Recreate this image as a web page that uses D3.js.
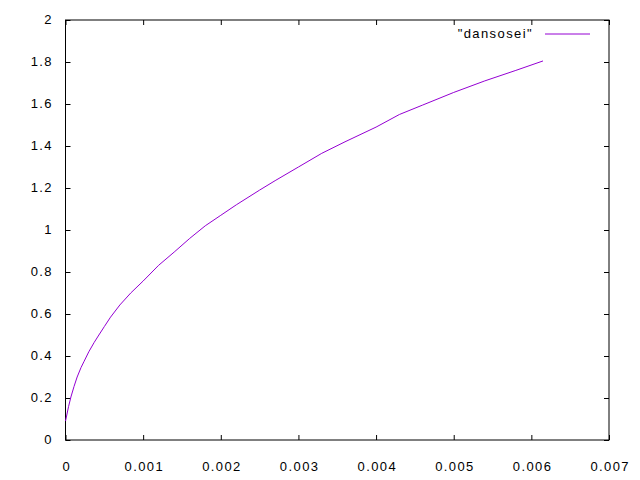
<!DOCTYPE html>
<html>
<head>
<meta charset="utf-8">
<script src="https://cdn.jsdelivr.net/npm/d3@7"></script>
<style>
  body { margin: 0; background: #fff; }
</style>
</head>
<body>
<svg id="chart" width="640" height="480"></svg>
<script>
// data
const xs = [0, 0.00004, 0.00007, 0.00011, 0.00015, 0.0002, 0.00024, 0.0003, 0.00037, 0.00043,
            0.0005, 0.00058, 0.0007, 0.00084, 0.001, 0.0012, 0.0014, 0.0016, 0.0018, 0.002,
            0.0022, 0.0025, 0.0027, 0.003, 0.0033, 0.0036, 0.004, 0.0043, 0.0046, 0.005,
            0.0054, 0.0058, 0.00615];
const ys = [0.09, 0.16, 0.205, 0.255, 0.3, 0.345, 0.375, 0.42, 0.465, 0.50,
            0.54, 0.585, 0.643, 0.70, 0.757, 0.832, 0.895, 0.96, 1.02, 1.07,
            1.12, 1.19, 1.235, 1.30, 1.365, 1.42, 1.49, 1.55, 1.595, 1.655,
            1.71, 1.76, 1.805];
const xTicks = [0, 0.001, 0.002, 0.003, 0.004, 0.005, 0.006, 0.007];
const yTicks = [0, 0.2, 0.4, 0.6, 0.8, 1, 1.2, 1.4, 1.6, 1.8, 2];
const seriesName = '"dansosei"';

const margin = {top: 20, right: 31, bottom: 40, left: 65.5};
const width = 640, height = 480;
const svg = d3.select("#chart");

const x = d3.scaleLinear().domain([0, 0.007]).range([margin.left, width - margin.right]);
const y = d3.scaleLinear().domain([0, 2]).range([height - margin.bottom, margin.top]);

const tickLen = 5;
const fmt = d => String(+d.toFixed(4));
const font = g => g.attr("font-family", "'Liberation Sans', Arial, sans-serif")
    .attr("font-size", 13).attr("letter-spacing", "1.4px");

// bottom + top ticks (inward)
svg.append("g")
    .attr("transform", `translate(0,${y(0)})`)
    .call(d3.axisBottom(x).tickValues(xTicks).tickSize(-tickLen).tickPadding(12).tickFormat(fmt))
    .call(font)
    .call(g => g.select(".domain").remove())
    .call(g => g.selectAll("text").attr("fill", "#000").attr("dx", "0.7px").attr("dy", null).attr("y", 31));
svg.append("g")
    .attr("transform", `translate(0,${y(2)})`)
    .call(d3.axisTop(x).tickValues(xTicks).tickSize(-tickLen).tickFormat(""))
    .call(g => g.select(".domain").remove());

// left + right ticks
svg.append("g")
    .attr("transform", `translate(${x(0)},0)`)
    .call(d3.axisLeft(y).tickValues(yTicks).tickSize(-tickLen).tickPadding(12.5).tickFormat(fmt))
    .call(font)
    .call(g => g.select(".domain").remove())
    .call(g => g.selectAll("text").attr("fill", "#000").attr("dy", null).attr("y", 3));
svg.append("g")
    .attr("transform", `translate(${x(0.007)},0)`)
    .call(d3.axisRight(y).tickValues(yTicks).tickSize(-tickLen).tickFormat(""))
    .call(g => g.select(".domain").remove());

svg.selectAll(".tick line").attr("stroke", "#000");

// border
svg.append("rect")
    .attr("x", x(0)).attr("y", y(2))
    .attr("width", x(0.007) - x(0)).attr("height", y(0) - y(2))
    .attr("fill", "none").attr("stroke", "#000").attr("stroke-width", 1);

// the curve
const line = d3.line().x((d, i) => x(xs[i])).y(d => y(d));
svg.append("path")
    .datum(ys)
    .attr("fill", "none")
    .attr("stroke", "#9400d3")
    .attr("stroke-width", 1)
    .attr("d", line);

// key
svg.append("text")
    .call(font)
    .attr("x", 533).attr("y", 38)
    .attr("text-anchor", "end")
    .attr("fill", "#000")
    .text(seriesName);
svg.append("line")
    .attr("x1", 545).attr("x2", 590)
    .attr("y1", 34).attr("y2", 34)
    .attr("stroke", "#9400d3").attr("stroke-width", 1);
</script>
</body>
</html>
